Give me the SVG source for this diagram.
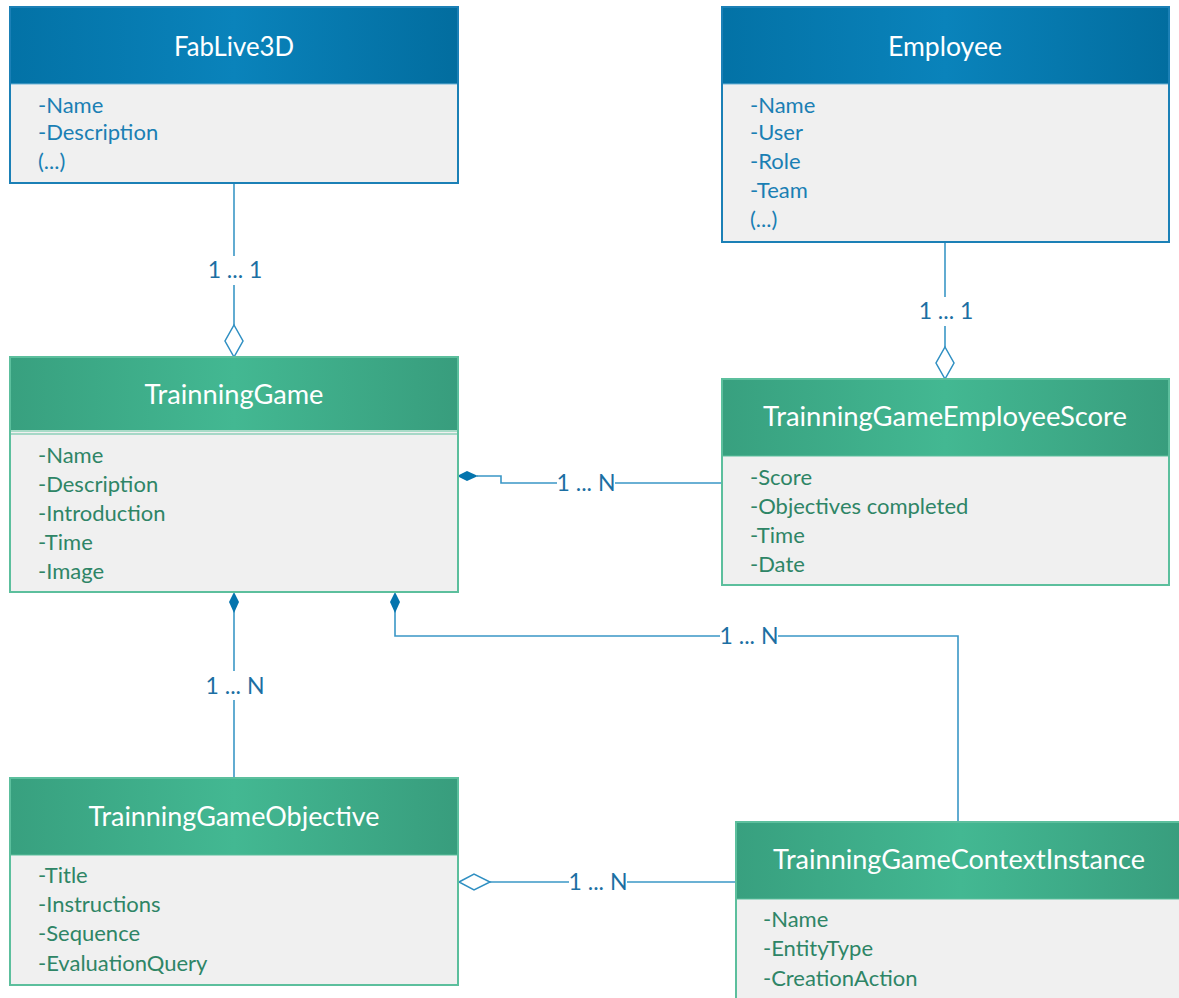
<svg xmlns="http://www.w3.org/2000/svg" width="1179" height="998" viewBox="0 0 1179 998">
<defs>
<linearGradient id="gBlue" x1="0" y1="0" x2="1" y2="0">
<stop offset="0" stop-color="#0372a6"/>
<stop offset="0.5" stop-color="#0a83bb"/>
<stop offset="1" stop-color="#026d9f"/>
</linearGradient>
<linearGradient id="gGreen" x1="0" y1="0" x2="1" y2="0">
<stop offset="0" stop-color="#38a07f"/>
<stop offset="0.5" stop-color="#43b892"/>
<stop offset="1" stop-color="#389d7d"/>
</linearGradient>
</defs>
<style>
.hdrB{fill:url(#gBlue);}
.hdrG{fill:url(#gGreen);}
.body{fill:#f0f0f0;}
.bordB{fill:none;stroke:#1b80b6;stroke-width:2;}
.bordG{fill:none;stroke:#5cbf9d;stroke-width:2;}
.title{font-family:Lato,"Liberation Sans",sans-serif;font-size:26px;fill:#ffffff;text-anchor:middle;}
.attrB{font-family:Lato,"Liberation Sans",sans-serif;font-size:22px;fill:#1a7fb4;}
.attrG{font-family:Lato,"Liberation Sans",sans-serif;font-size:22px;fill:#2e8566;}
.conn{fill:none;stroke:#3a97c6;stroke-width:1.6;}
.lbl{font-family:Lato,"Liberation Sans",sans-serif;font-size:23px;fill:#1c6fa3;text-anchor:middle;}
.bg{fill:#ffffff;}
.fd{fill:#0474ad;}
.hd{fill:#ffffff;stroke:#2f8fc2;stroke-width:1.5;}
</style>
<rect x="0" y="0" width="1179" height="998" fill="#ffffff"/>

<g id="connectors">
<!-- FabLive3D - TrainningGame -->
<line class="conn" x1="234" y1="183" x2="234" y2="325"/>
<rect class="bg" x="200" y="256" width="68" height="29"/>
<text class="lbl" x="235" y="278">1 ... 1</text>
<path class="hd" d="M234,325 L243,341 L234,357 L225,341 Z"/>
<!-- Employee - Score -->
<line class="conn" x1="945" y1="242" x2="945" y2="347"/>
<rect class="bg" x="911" y="297" width="68" height="29"/>
<text class="lbl" x="946" y="319">1 ... 1</text>
<path class="hd" d="M945,347 L954,363 L945,379 L936,363 Z"/>
<!-- TrainningGame - Score -->
<path class="conn" d="M477,476 L501,476 L501,483 L722,483"/>
<rect class="bg" x="557" y="470" width="58" height="26"/>
<text class="lbl" x="586" y="491">1 ... N</text>
<path class="fd" d="M457,476 L467,471 L478,476 L467,481 Z"/>
<!-- TrainningGame - Objective -->
<line class="conn" x1="234" y1="610" x2="234" y2="778"/>
<rect class="bg" x="200" y="671" width="68" height="29"/>
<text class="lbl" x="235" y="694">1 ... N</text>
<path class="fd" d="M234,592 L239,602 L234,613 L229,602 Z"/>
<!-- TrainningGame - ContextInstance -->
<path class="conn" d="M395,610 L395,636 L958,636 L958,822"/>
<rect class="bg" x="720" y="623" width="58" height="26"/>
<text class="lbl" x="749" y="644">1 ... N</text>
<path class="fd" d="M395,592 L400,602 L395,613 L390,602 Z"/>
<!-- Objective - ContextInstance -->
<line class="conn" x1="490" y1="882" x2="736" y2="882"/>
<rect class="bg" x="569" y="869" width="58" height="26"/>
<text class="lbl" x="598" y="890">1 ... N</text>
<path class="hd" d="M459,882 L474,874 L490,882 L474,890 Z"/>
</g>

<g id="FabLive3D">
<rect class="hdrB" x="10" y="7" width="448" height="77"/>
<rect class="body" x="10" y="84" width="448" height="99"/>
<line x1="10" y1="84" x2="458" y2="84" stroke="#6fb3d6" stroke-width="1"/>
<rect class="bordB" x="10" y="7" width="448" height="176"/>
<text class="title" x="234" y="56" textLength="120" lengthAdjust="spacingAndGlyphs">FabLive3D</text>
<text class="attrB" x="38" y="113">-Name</text>
<text class="attrB" x="38" y="140">-Description</text>
<text class="attrB" x="38" y="169">(...)</text>
</g>

<g id="Employee">
<rect class="hdrB" x="722" y="7" width="447" height="77"/>
<rect class="body" x="722" y="84" width="447" height="158"/>
<line x1="722" y1="84" x2="1169" y2="84" stroke="#6fb3d6" stroke-width="1"/>
<rect class="bordB" x="722" y="7" width="447" height="235"/>
<text class="title" x="945" y="56" textLength="114" lengthAdjust="spacingAndGlyphs">Employee</text>
<text class="attrB" x="750" y="113">-Name</text>
<text class="attrB" x="750" y="140">-User</text>
<text class="attrB" x="750" y="169">-Role</text>
<text class="attrB" x="750" y="198">-Team</text>
<text class="attrB" x="750" y="227">(...)</text>
</g>

<g id="TrainningGame">
<rect class="hdrG" x="10" y="357" width="448" height="75"/>
<rect class="body" x="10" y="432" width="448" height="160"/>
<line x1="10" y1="431" x2="458" y2="431" stroke="#a9dcc8" stroke-width="2"/>
<line x1="10" y1="434" x2="458" y2="434" stroke="#5cbf9d" stroke-width="1"/>
<rect class="bordG" x="10" y="357" width="448" height="235"/>
<text class="title" x="234" y="404" textLength="179" lengthAdjust="spacingAndGlyphs">TrainningGame</text>
<text class="attrG" x="38" y="463">-Name</text>
<text class="attrG" x="38" y="492">-Description</text>
<text class="attrG" x="38" y="521">-Introduction</text>
<text class="attrG" x="38" y="550">-Time</text>
<text class="attrG" x="38" y="579">-Image</text>
</g>

<g id="TrainningGameEmployeeScore">
<rect class="hdrG" x="722" y="379" width="447" height="77"/>
<rect class="body" x="722" y="456" width="447" height="129"/>
<line x1="722" y1="456" x2="1169" y2="456" stroke="#5cbf9d" stroke-width="1"/>
<rect class="bordG" x="722" y="379" width="447" height="206"/>
<text class="title" x="945" y="426" textLength="364" lengthAdjust="spacingAndGlyphs">TrainningGameEmployeeScore</text>
<text class="attrG" x="750" y="485">-Score</text>
<text class="attrG" x="750" y="514">-Objectives completed</text>
<text class="attrG" x="750" y="543">-Time</text>
<text class="attrG" x="750" y="572">-Date</text>
</g>

<g id="TrainningGameObjective">
<rect class="hdrG" x="10" y="778" width="448" height="77"/>
<rect class="body" x="10" y="855" width="448" height="130"/>
<line x1="10" y1="855" x2="458" y2="855" stroke="#5cbf9d" stroke-width="1"/>
<rect class="bordG" x="10" y="778" width="448" height="207"/>
<text class="title" x="234" y="826" textLength="291" lengthAdjust="spacingAndGlyphs">TrainningGameObjective</text>
<text class="attrG" x="38" y="883">-Title</text>
<text class="attrG" x="38" y="912">-Instructions</text>
<text class="attrG" x="38" y="941">-Sequence</text>
<text class="attrG" x="38" y="971">-EvaluationQuery</text>
</g>

<g id="TrainningGameContextInstance">
<rect class="hdrG" x="736" y="822" width="450" height="77"/>
<rect class="body" x="736" y="899" width="450" height="110"/>
<line x1="736" y1="899" x2="1186" y2="899" stroke="#5cbf9d" stroke-width="1"/>
<rect class="bordG" x="736" y="822" width="450" height="190"/>
<text class="title" x="959" y="869" textLength="372" lengthAdjust="spacingAndGlyphs">TrainningGameContextInstance</text>
<text class="attrG" x="763" y="927">-Name</text>
<text class="attrG" x="763" y="956">-EntityType</text>
<text class="attrG" x="763" y="986">-CreationAction</text>
</g>
</svg>
